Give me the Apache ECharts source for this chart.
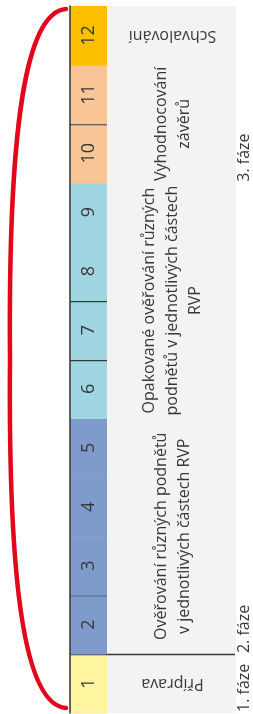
<!DOCTYPE html>
<html><head><meta charset="utf-8">
<script src="https://cdn.jsdelivr.net/npm/echarts@6/dist/echarts.min.js"></script>
<style>html,body{margin:0;padding:0;background:#fff}#c{width:253px;height:714px}</style>
</head><body><div id="c"></div>
<script>
// ---- data ----
const steps = ['1','2','3','4','5','6','7','8','9','10','11','12'];
const stepPhase = [0,1,1,1,1,2,2,2,2,3,3,4];           // colour group of each step
const groupColors = ['#fff59e','#7f9bcb','#9fd6e1','#f9c597','#fcbf00'];
const activityTexts = ['Příprava','Ověřování různých podnětů\nv jednotlivých částech RVP','Opakované ověřování různých\npodnětů v jednotlivých částech\nRVP','Vyhodnocování\nzávěrů','Schvalování'];
const activityFrom = [1,2,6,10,12];
const activityTo   = [1,5,9,11,12];
const activityUpsideDown = [true,false,false,false,true];
const phaseLabels = ['1. fáze','2. fáze','3. fáze'];
const phaseStart  = [1,2,10];
const separatorAfter = [1,2,6,7,10];
const separatorLong  = [true,false,false,false,false];

const chart = echarts.init(document.getElementById('c'), null, {renderer:'canvas'});
const FONT = 'Open Sans';
const TXT = '#383838';
const LINE = {stroke:'#3a3a3a', lineWidth:1.5};

const redStroke = {fill:null, stroke:'#e2071b', lineWidth:4.5, lineCap:'round'};

chart.setOption({
  animation:false,
  grid:[
    {left:70, top:6, width:37, height:707, show:false},
    {left:107, top:6, width:129, height:707, show:true, backgroundColor:'#f3f3f3', borderWidth:0}
  ],
  xAxis:[
    {gridIndex:0, type:'value', min:0, max:1, show:false},
    {gridIndex:1, type:'value', min:0, max:1, show:false}
  ],
  yAxis:[
    {gridIndex:0, type:'category', data:steps, axisLine:{show:true, lineStyle:{color:'#3c3c3c', width:1.6}}, axisTick:{show:false}, axisLabel:{show:false}, z:30},
    {gridIndex:1, type:'category', data:steps, show:false}
  ],
  series:[
    // step cells with numbers and separators
    {type:'custom', xAxisIndex:0, yAxisIndex:0, data:steps.map((s,i)=>[1,i]), silent:true, clip:false, z:5,
     renderItem:function(params, api){
       const i = params.dataIndex;
       const band = api.size([0,1])[1];
       const c = api.coord([0, i]);
       const x1 = c[0], x2 = api.coord([1, i])[0];
       const top = c[1] - band/2;
       const children = [
         {type:'rect', shape:{x:x1, y:top, width:x2-x1, height:band+0.5}, style:{fill:groupColors[stepPhase[i]]}},
         {type:'text', x:(x1+x2)/2+0.5, y:c[1], rotation:Math.PI/2, style:{text:steps[i], align:'center', verticalAlign:'middle', fontFamily:FONT, fontSize:18, fill:TXT}}
       ];
       const k = separatorAfter.indexOf(i+1);
       if (k >= 0) {
         const y = Math.round(top) + 0.5;
         children.push({type:'line', shape:{x1:x1, y1:y, x2:x2, y2:y}, style:LINE});
       }
       return {type:'group', children:children};
     }},
    // long separators across the activity panel
    {type:'custom', xAxisIndex:1, yAxisIndex:1, data:separatorAfter.map((v,i)=>[0,v-1]), silent:true, clip:false, z:20,
     renderItem:function(params, api){
       const i = params.dataIndex;
       if (!separatorLong[i]) return {type:'group', children:[]};
       const band = api.size([0,1])[1];
       const y = Math.round(api.coord([0, separatorAfter[i]-1])[1] - band/2) + 0.5;
       return {type:'line', shape:{x1:api.coord([0,0])[0], y1:y, x2:api.coord([1,0])[0]-1, y2:y}, style:LINE};
     }},
    // activity texts
    {type:'custom', xAxisIndex:1, yAxisIndex:1, data:activityTexts.map((v,i)=>[0.5,activityFrom[i]-1]), silent:true, clip:false, z:10,
     renderItem:function(params, api){
       const i = params.dataIndex;
       const y1 = api.coord([0, activityFrom[i]-1])[1], y2 = api.coord([0, activityTo[i]-1])[1];
       const x = api.coord([0.5,0])[0] + 1;
       return {type:'text', x:x, y:(y1+y2)/2, rotation: activityUpsideDown[i]?Math.PI:Math.PI/2,
         style:{text:activityTexts[i], align:'center', verticalAlign:'middle', fontFamily:FONT, fontSize:16, lineHeight:23, fill:TXT}};
     }},
    // phase labels
    {type:'custom', xAxisIndex:1, yAxisIndex:1, data:phaseLabels.map((v,i)=>[1,phaseStart[i]-1]), silent:true, clip:false, z:10,
     renderItem:function(params, api){
       const i = params.dataIndex;
       const band = api.size([0,1])[1];
       const y = api.coord([0, phaseStart[i]-1])[1] + band/2 - 1;
       const x = api.coord([1,0])[0] + 8;
       return {type:'text', x:x, y:y, rotation:Math.PI/2,
         style:{text:phaseLabels[i], align:'left', verticalAlign:'middle', fontFamily:FONT, fontSize:16, fill:TXT}};
     }}
  ],
  graphic:[
    {type:'bezierCurve', shape:{x1:66,y1:9,cpx1:25,cpy1:12,cpx2:8,cpy2:130,x2:10,y2:359}, style:redStroke, silent:true, z:40},
    {type:'bezierCurve', shape:{x1:10,y1:359,cpx1:8,cpy1:588,cpx2:25,cpy2:705,x2:66,y2:708}, style:redStroke, silent:true, z:40}
  ]
});
</script></body></html>
